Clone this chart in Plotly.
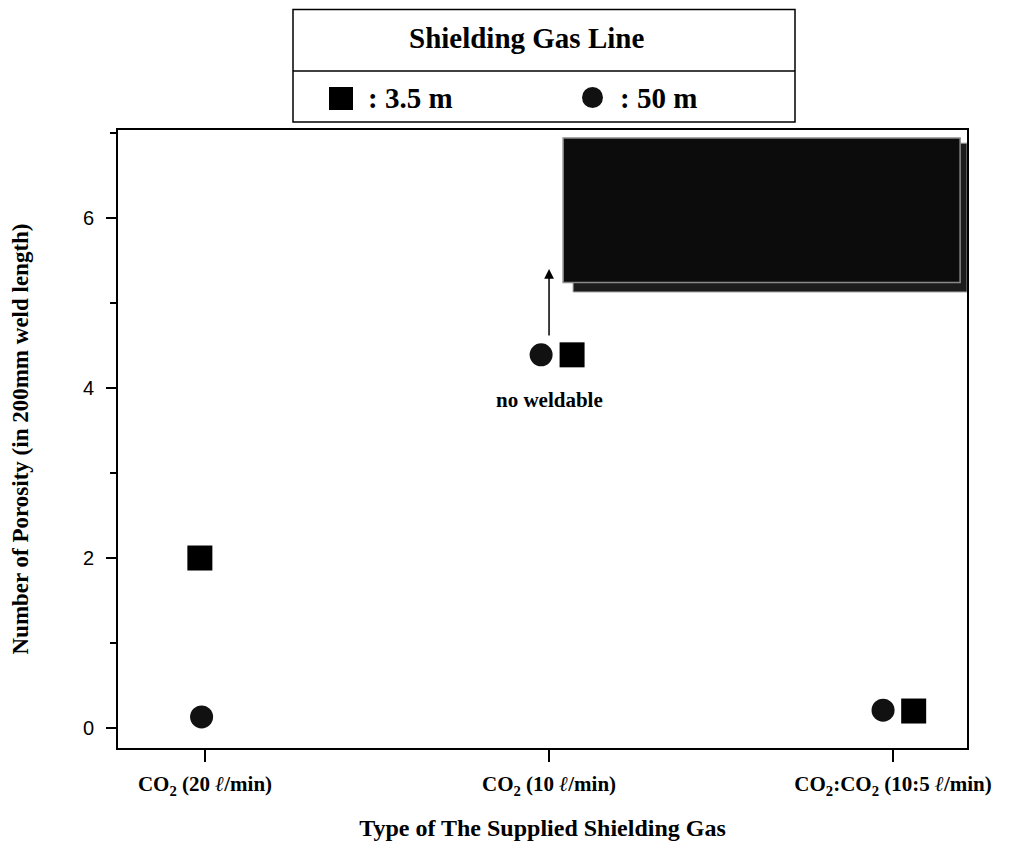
import plotly.graph_objects as go

# ---- data ----
categories = ["<b>CO<sub>2</sub> (20 <i>ℓ</i>/min)</b>",
              "<b>CO<sub>2</sub> (10 <i>ℓ</i>/min)</b>",
              "<b>CO<sub>2</sub>:CO<sub>2</sub> (10:5 <i>ℓ</i>/min)</b>"]
cat_pos = [0, 1, 2]
line_35m_x = [-0.015, 1.067, 2.06]
line_35m_y = [2.0, 4.39, 0.2]
line_50m_x = [-0.01, 0.977, 1.971]
line_50m_y = [0.13, 4.39, 0.21]
y_ticks = [0, 2, 4, 6]
# region of "no weldable" (data coords)
region_main = [1.041, 2.195, 5.24, 6.94]
region_shadow = [1.070, 2.215, 5.13, 6.88]
arrow_x = 1.0
arrow_from_y = 4.6
arrow_to_y = 5.4
note_y = 3.86

SERIF = "Liberation Serif"
SANS = "Liberation Sans"

OFF = 8  # page offset of the plot div
W, H = 1011, 840
ML, MR, MT, MB = 110, 52, 122, 100
PW, PH = W - ML - MR, H - MT - MB

def px(x):
    return (x - OFF - ML) / PW

def py(y):
    return (OFF + H - MB - y) / PH

fig = go.Figure()
fig.add_trace(go.Scatter(x=line_35m_x, y=line_35m_y, mode="markers",
                         marker=dict(symbol="square", size=25, color="black"),
                         showlegend=False))
fig.add_trace(go.Scatter(x=line_50m_x, y=line_50m_y, mode="markers",
                         marker=dict(symbol="circle", size=23, color="#111"),
                         showlegend=False))

shapes = []
shapes.append(dict(type="rect", xref="x", yref="y",
                   x0=region_shadow[0], x1=region_shadow[1], y0=region_shadow[2], y1=region_shadow[3],
                   fillcolor="#1c1c1c", line=dict(color="#999", width=1), layer="below"))
shapes.append(dict(type="rect", xref="x", yref="y",
                   x0=region_main[0], x1=region_main[1], y0=region_main[2], y1=region_main[3],
                   fillcolor="#0c0c0c", line=dict(color="#8a8a8a", width=1.5), layer="below"))

# legend box
shapes.append(dict(type="rect", xref="paper", yref="paper",
                   x0=px(293), x1=px(795), y0=py(122), y1=py(9.5),
                   line=dict(color="black", width=1.5), fillcolor="white"))
shapes.append(dict(type="line", xref="paper", yref="paper",
                   x0=px(293), x1=px(795), y0=py(71), y1=py(71),
                   line=dict(color="black", width=1.5)))
shapes.append(dict(type="rect", xref="paper", yref="paper",
                   x0=px(329), x1=px(353), y0=py(110), y1=py(87),
                   fillcolor="black", line=dict(width=0)))
shapes.append(dict(type="circle", xref="paper", yref="paper",
                   x0=px(582), x1=px(603), y0=py(108), y1=py(87),
                   fillcolor="#111", line=dict(width=0)))

annotations = [
    dict(text="<b>Shielding Gas Line</b>", xref="paper", yref="paper",
         x=px(526), y=py(38), xanchor="center", yanchor="middle", showarrow=False,
         font=dict(family=SERIF, size=29, color="black")),
    dict(text="<b>: 3.5 m</b>", xref="paper", yref="paper", xanchor="left", yanchor="middle",
         x=px(366), y=py(98), showarrow=False, font=dict(family=SERIF, size=29, color="black")),
    dict(text="<b>: 50 m</b>", xref="paper", yref="paper", xanchor="left", yanchor="middle",
         x=px(618), y=py(98), showarrow=False, font=dict(family=SERIF, size=29, color="black")),
    dict(text="<b>no weldable</b>", xref="x", yref="y", x=arrow_x, y=note_y,
         xanchor="center", yanchor="middle",
         showarrow=False, font=dict(family=SERIF, size=21, color="black")),
    dict(text="", xref="x", yref="y", x=arrow_x, y=arrow_to_y, ax=arrow_x, ay=arrow_from_y,
         axref="x", ayref="y", showarrow=True, arrowhead=2, arrowsize=1.3, arrowwidth=1.5,
         arrowcolor="black"),
]

fig.update_layout(
    width=W, height=H,
    margin=dict(l=ML, r=MR, t=MT, b=MB),
    paper_bgcolor="white", plot_bgcolor="white",
    shapes=shapes, annotations=annotations,
    showlegend=False,
    xaxis=dict(range=[-0.253, 2.215], tickvals=cat_pos, ticktext=categories,
               showgrid=False, zeroline=False, showline=True, linecolor="black", linewidth=2,
               mirror=True, ticks="outside", ticklen=12, tickwidth=2, tickcolor="black",
               ticklabelstandoff=4,
               tickfont=dict(family=SERIF, size=21, color="black"),
               title=dict(text="<b>Type of The Supplied Shielding Gas</b>", standoff=22,
                          font=dict(family=SERIF, size=24, color="black"))),
    yaxis=dict(range=[-0.235, 7.035], tickvals=y_ticks,
               showgrid=False, zeroline=False, showline=True, linecolor="black", linewidth=2,
               mirror=True, ticks="outside", ticklen=10, tickwidth=1.5, tickcolor="black",
               ticklabelstandoff=8,
               minor=dict(dtick=1, ticks="outside", ticklen=6, tickwidth=1.5, tickcolor="black"),
               tickfont=dict(family=SANS, size=20, color="black"),
               title=dict(text="<b>Number of Porosity (in 200mm weld length)</b>", standoff=48,
                          font=dict(family=SERIF, size=23, color="black"))),
)

fig.write_html("out.html")
